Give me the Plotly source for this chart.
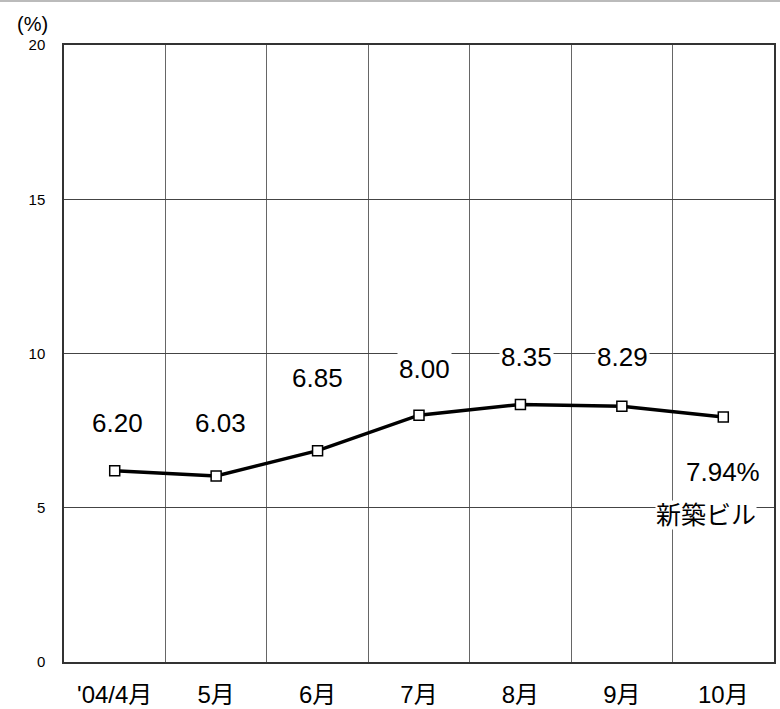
import plotly.graph_objects as go

categories = ["'04/4月", "5月", "6月", "7月", "8月", "9月", "10月"]
values = [6.20, 6.03, 6.85, 8.00, 8.35, 8.29, 7.94]
value_labels = ["6.20", "6.03", "6.85", "8.00", "8.35", "8.29", "7.94%"]
label_shift = [48, 53, 73, 46, 47, 49, -55]
label_xshift = [3, 4, 0, 5, 6, 1, 0]
series_name = "新築ビル"
y_ticks = [0, 5, 10, 15, 20]

FONT = "Liberation Sans, Arial, Noto Sans CJK JP, sans-serif"
xs = list(range(len(categories)))

W, H = 780, 709
L, R, T, B = 64, 6, 45, 47
PW, PH = W - L - R, H - T - B

fig = go.Figure()
fig.add_trace(go.Scatter(
    x=xs, y=values, mode="lines+markers",
    line=dict(color="black", width=3.5),
    marker=dict(symbol="square", size=10, color="white",
                line=dict(color="black", width=1.5)),
    showlegend=False, hoverinfo="skip",
))

for i, (v, t) in enumerate(zip(values, value_labels)):
    fig.add_annotation(x=xs[i], y=v, text=t, showarrow=False,
                       xanchor="center", yanchor="middle",
                       yshift=label_shift[i], xshift=label_xshift[i],
                       font=dict(family=FONT, size=26, color="black"),
                       bgcolor="white", borderpad=1)

fig.add_annotation(x=xs[-1], y=values[-1], text=series_name, showarrow=False,
                   xanchor="center", yanchor="middle",
                   yshift=-98, xshift=-17,
                   font=dict(family=FONT, size=25, color="black"),
                   bgcolor="white", borderpad=0)

fig.add_annotation(xref="paper", yref="paper", x=-32 / PW, y=1 + 21 / PH,
                   xanchor="center", yanchor="middle",
                   text="(%)", showarrow=False,
                   font=dict(family=FONT, size=20, color="black"))

# top page line
fig.add_shape(type="line", xref="paper", yref="paper",
              x0=-L / PW, x1=1 + R / PW, y0=1 + (T - 1) / PH, y1=1 + (T - 1) / PH,
              line=dict(color="#bbbbbb", width=2))

fig.update_layout(
    width=W, height=H,
    margin=dict(l=L, r=R, t=T, b=B, autoexpand=False),
    paper_bgcolor="white", plot_bgcolor="white",
    font=dict(family=FONT, color="black"),
)
fig.update_xaxes(
    automargin=False,
    range=[-0.5, len(categories) - 0.5],
    tickvals=xs, ticktext=categories,
    tickfont=dict(size=24), ticks="", showgrid=False,
    ticklabelstandoff=10,
    minor=dict(tick0=0.5, dtick=1, showgrid=True, gridcolor="#666666", gridwidth=1),
    showline=True, linecolor="#333333", linewidth=1.5, mirror=True,
    zeroline=False, fixedrange=True,
)
fig.update_yaxes(
    automargin=False,
    range=[0, 20], tickvals=y_ticks,
    tickfont=dict(size=15), ticks="",
    ticklabelstandoff=14,
    showgrid=True, gridcolor="#444444", gridwidth=1,
    showline=True, linecolor="#333333", linewidth=1.5, mirror=True,
    zeroline=False, fixedrange=True,
)

fig.write_html("out.html", config={"displayModeBar": False},
               post_script="document.body.style.margin='0';document.body.style.overflow='hidden';")
